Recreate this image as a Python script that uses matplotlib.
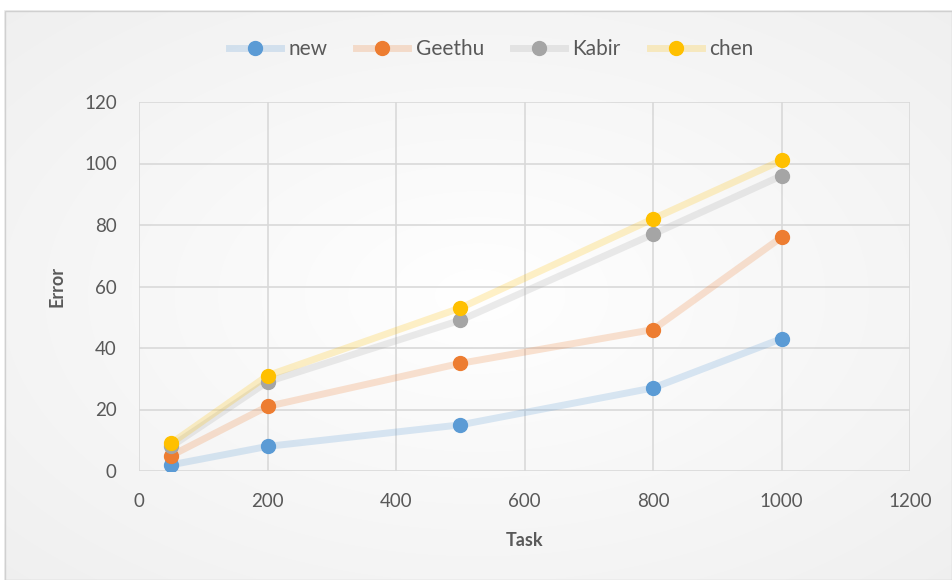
import numpy as np
import matplotlib.pyplot as plt
from matplotlib.patches import Rectangle
from matplotlib.lines import Line2D
from matplotlib.legend_handler import HandlerTuple

tasks = [50, 200, 500, 800, 1000]
new = [2, 8, 15, 27, 43]
geethu = [5, 21, 35, 46, 76]
kabir = [8, 29, 49, 77, 96]
chen = [9, 31, 53, 82, 101]

series = [
    ("new", new, "#5b9bd5"),
    ("Geethu", geethu, "#ed7d31"),
    ("Kabir", kabir, "#a5a5a5"),
    ("chen", chen, "#ffc000"),
]

plt.rcParams['font.family'] = ['Lato', 'DejaVu Sans']

W, H = 952, 580
fig = plt.figure(figsize=(W / 100, H / 100), dpi=100)
fig.patch.set_facecolor('white')

# chart-area background with a soft radial shading
bg = fig.add_axes([0, 0, 1, 1], zorder=-10)
bg.set_xlim(0, W)
bg.set_ylim(H, 0)
bg.axis('off')
yy, xx = np.mgrid[0:H, 0:W]
r = np.sqrt(((xx - W / 2) / (W / 2)) ** 2 + ((yy - H / 2) / (H / 2)) ** 2)
shade = 1.0 - 0.06 * np.clip(r, 0, 1.4) / 1.4
img = np.dstack([shade, shade, shade])
bg.imshow(img, extent=[4, W, H, 10], aspect='auto', zorder=0)
bg.add_patch(Rectangle((4.5, 10.5), W - 5, H - 11, fill=False,
                       edgecolor='#d0d0d0', linewidth=1, zorder=1))

ax = fig.add_axes([139 / W, 1 - 471 / H, (910 - 139) / W, (471 - 102) / H])
ax.patch.set_alpha(0)

for name, vals, col in series:
    ax.plot(tasks, vals, color=col, alpha=0.22, linewidth=5,
            solid_capstyle='round', zorder=2)
    ax.plot(tasks, vals, linestyle='none', marker='o', markersize=10,
            color=col, zorder=3)

ax.set_xlim(0, 1200)
ax.set_ylim(0, 120)
ax.set_xticks(np.arange(0, 1201, 200))
ax.set_yticks(np.arange(0, 121, 20))
ax.grid(True, color='#d9d9d9', linewidth=1.2)
ax.set_axisbelow(True)
for s in ax.spines.values():
    s.set_visible(False)
ax.tick_params(axis='y', length=0, labelsize=13.5, colors='#595959', pad=16)
ax.tick_params(axis='x', length=0, labelsize=13.5, colors='#595959', pad=16)
ax.set_xlabel('Task', fontsize=13, fontweight='bold', color='#595959', labelpad=16)
ax.set_ylabel('Error', fontsize=13, fontweight='bold', color='#595959', labelpad=13)

# legend handles: faint line with solid marker
handles = []
for name, vals, col in series:
    ln = Line2D([], [], color=col, alpha=0.22, linewidth=5)
    mk = Line2D([], [], linestyle='none', marker='o', markersize=10, color=col)
    handles.append((ln, mk))
leg = fig.legend(handles, [s[0] for s in series], loc='center',
                 bbox_to_anchor=(491 / W, 1 - 49 / H), ncol=4, frameon=False,
                 fontsize=15, handlelength=2.5, columnspacing=1.4,
                 handletextpad=0.35,
                 handler_map={tuple: HandlerTuple(ndivide=1)})
for t in leg.get_texts():
    t.set_color('#595959')

fig.savefig('out.png', dpi=100)
